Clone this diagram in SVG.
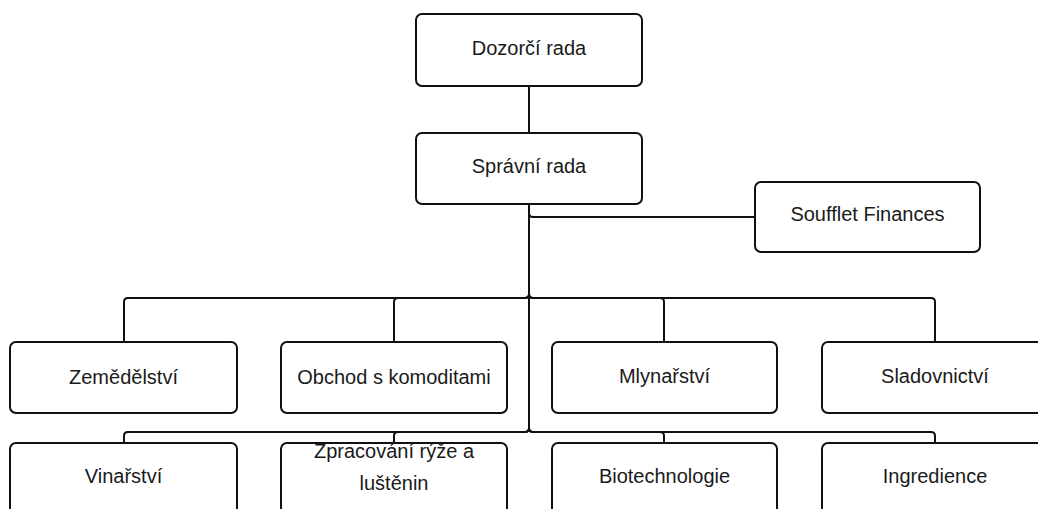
<svg xmlns="http://www.w3.org/2000/svg" width="1038" height="509" viewBox="0 0 1038 509">
  <style>
    .box { fill: #ffffff; stroke: #111111; stroke-width: 2; }
    .lbl { font-family: "Liberation Sans", Arial, sans-serif; font-size: 20px; fill: #1a1a1a; text-anchor: middle; }
    .link { fill: none; stroke: #111111; stroke-width: 2; }
  </style>
  <rect width="1038" height="509" fill="#ffffff"/>

  <!-- connectors: trunk from the board down to each division, with rounded elbows -->
  <g id="connectors">
    <path class="link" d="M529,86 V133"/>
    <path class="link" d="M529,204 V213 Q529,217 533,217 H755"/>
    <!-- first row -->
    <path class="link" d="M529,204 V294 Q529,298 525,298 H128 Q124,298 124,302 V342"/>
    <path class="link" d="M529,204 V294 Q529,298 525,298 H398 Q394,298 394,302 V342"/>
    <path class="link" d="M529,204 V294 Q529,298 533,298 H660 Q664,298 664,302 V342"/>
    <path class="link" d="M529,204 V294 Q529,298 533,298 H931 Q935,298 935,302 V342"/>
    <!-- second row -->
    <path class="link" d="M529,298 V428 Q529,432 525,432 H128 Q124,432 124,436 V443"/>
    <path class="link" d="M529,298 V428 Q529,432 525,432 H398 Q394,432 394,436 V443"/>
    <path class="link" d="M529,298 V428 Q529,432 533,432 H660 Q664,432 664,436 V443"/>
    <path class="link" d="M529,298 V428 Q529,432 533,432 H931 Q935,432 935,436 V443"/>
  </g>

  <g id="dozorci-rada">
    <rect class="box" x="416" y="14" width="226" height="72" rx="6"/>
    <text class="lbl" x="529" y="55">Dozorčí rada</text>
  </g>
  <g id="spravni-rada">
    <rect class="box" x="416" y="133" width="226" height="71" rx="6"/>
    <text class="lbl" x="529" y="173">Správní rada</text>
  </g>
  <g id="soufflet-finances">
    <rect class="box" x="755" y="182" width="225" height="70" rx="6"/>
    <text class="lbl" x="867.5" y="221">Soufflet Finances</text>
  </g>

  <g id="zemedelstvi">
    <rect class="box" x="10" y="342" width="227" height="71" rx="6"/>
    <text class="lbl" x="123.5" y="384">Zemědělství</text>
  </g>
  <g id="obchod">
    <rect class="box" x="281" y="342" width="226" height="71" rx="6"/>
    <text class="lbl" x="394" y="384">Obchod s komoditami</text>
  </g>
  <g id="mlynarstvi">
    <rect class="box" x="552" y="342" width="225" height="71" rx="6"/>
    <text class="lbl" x="664.5" y="383">Mlynařství</text>
  </g>
  <g id="sladovnictvi">
    <rect class="box" x="822" y="342" width="226" height="71" rx="6"/>
    <text class="lbl" x="935" y="383">Sladovnictví</text>
  </g>

  <g id="vinarstvi">
    <rect class="box" x="10" y="443" width="227" height="80" rx="6"/>
    <text class="lbl" x="123.5" y="483">Vinařství</text>
  </g>
  <g id="zpracovani">
    <rect class="box" x="281" y="443" width="226" height="80" rx="6"/>
    <text class="lbl" x="394" y="458">Zpracování rýže a</text>
    <text class="lbl" x="394" y="490">luštěnin</text>
  </g>
  <g id="biotechnologie">
    <rect class="box" x="552" y="443" width="225" height="80" rx="6"/>
    <text class="lbl" x="664.5" y="483">Biotechnologie</text>
  </g>
  <g id="ingredience">
    <rect class="box" x="822" y="443" width="226" height="80" rx="6"/>
    <text class="lbl" x="935" y="483">Ingredience</text>
  </g>
</svg>
